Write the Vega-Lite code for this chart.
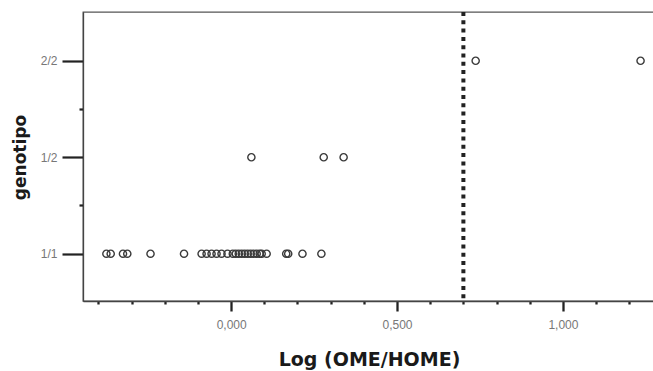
{
  "$schema": "https://vega.github.io/schema/vega-lite/v6.json",
  "width": 571,
  "height": 289,
  "autosize": {"type": "none"},
  "padding": {"left": 83, "top": 12, "right": 0, "bottom": 70},
  "background": "white",
  "config": {
    "view": {"stroke": "#555", "strokeWidth": 1.3},
    "font": "Liberation Sans"
  },
  "datasets": {
    "pts": [
      {"logratio": -0.376, "genotipo": 1},
      {"logratio": -0.363, "genotipo": 1},
      {"logratio": -0.326, "genotipo": 1},
      {"logratio": -0.313, "genotipo": 1},
      {"logratio": -0.243, "genotipo": 1},
      {"logratio": -0.142, "genotipo": 1},
      {"logratio": -0.089, "genotipo": 1},
      {"logratio": -0.074, "genotipo": 1},
      {"logratio": -0.059, "genotipo": 1},
      {"logratio": -0.044, "genotipo": 1},
      {"logratio": -0.029, "genotipo": 1},
      {"logratio": -0.011, "genotipo": 1},
      {"logratio": 0.005, "genotipo": 1},
      {"logratio": 0.014, "genotipo": 1},
      {"logratio": 0.023, "genotipo": 1},
      {"logratio": 0.032, "genotipo": 1},
      {"logratio": 0.041, "genotipo": 1},
      {"logratio": 0.05, "genotipo": 1},
      {"logratio": 0.059, "genotipo": 1},
      {"logratio": 0.068, "genotipo": 1},
      {"logratio": 0.077, "genotipo": 1},
      {"logratio": 0.086, "genotipo": 1},
      {"logratio": 0.092, "genotipo": 1},
      {"logratio": 0.107, "genotipo": 1},
      {"logratio": 0.166, "genotipo": 1},
      {"logratio": 0.172, "genotipo": 1},
      {"logratio": 0.215, "genotipo": 1},
      {"logratio": 0.272, "genotipo": 1},
      {"logratio": 0.061, "genotipo": 2},
      {"logratio": 0.279, "genotipo": 2},
      {"logratio": 0.339, "genotipo": 2},
      {"logratio": 0.737, "genotipo": 3},
      {"logratio": 1.234, "genotipo": 3}
    ],
    "cut": [{"logratio": 0.7}]
  },
  "encoding": {
    "x": {
      "field": "logratio",
      "type": "quantitative",
      "scale": {"domain": [-0.4465, 1.2745], "nice": false, "zero": false},
      "axis": {
        "title": "Log (OME/HOME)",
        "values": [-0.4, -0.3, -0.2, -0.1, 0, 0.1, 0.2, 0.3, 0.4, 0.5, 0.6, 0.7, 0.8, 0.9, 1.0, 1.1, 1.2],
        "grid": false,
        "domainColor": "#444",
        "domainWidth": 1.3,
        "tickColor": "#222",
        "tickWidth": 2.3,
        "tickSize": {"expr": "abs(datum.value*2 - round(datum.value*2)) < 0.01 ? 10 : 3"},
        "labelExpr": "abs(datum.value*2 - round(datum.value*2)) < 0.01 ? replace(format(datum.value, '.3f'), '.', ',') : ''",
        "labelFont": "Liberation Sans",
        "labelFontSize": 12,
        "labelColor": "#777",
        "labelPadding": 8,
        "labelOverlap": false,
        "labelFlush": false,
        "labelBound": false,
        "titleFont": "DejaVu Sans",
        "titleFontWeight": "bold",
        "titleFontSize": 19,
        "titleColor": "#1a1a1a",
        "titleBaseline": "middle",
        "titleX": 286,
        "titleY": 58
      }
    }
  },
  "layer": [
    {
      "data": {"name": "pts"},
      "mark": {"type": "point", "shape": "circle", "filled": false, "color": "#3a3a3a", "strokeWidth": 1.4, "size": 52, "opacity": 1},
      "encoding": {
        "y": {
          "field": "genotipo",
          "type": "quantitative",
          "scale": {"domain": [0.51, 3.505], "nice": false, "zero": false},
          "axis": {
            "title": "genotipo",
            "values": [1, 1.5, 2, 2.5, 3],
            "grid": false,
            "domainColor": "#444",
            "domainWidth": 1.3,
            "tickColor": "#222",
            "tickWidth": 2.2,
            "tickSize": {"expr": "datum.value % 1 == 0 ? 21 : 4"},
            "labelExpr": "datum.value == 1 ? '1/1' : datum.value == 2 ? '1/2' : datum.value == 3 ? '2/2' : ''",
            "labelFont": "Liberation Sans",
            "labelFontSize": 12,
            "labelColor": "#777",
            "labelPadding": 5,
            "labelOverlap": false,
            "labelFlush": false,
            "labelBound": false,
            "titleFont": "DejaVu Sans",
            "titleFontWeight": "bold",
            "titleFontSize": 17,
            "titleColor": "#1a1a1a",
            "titleAngle": 270,
            "titleAlign": "center",
            "titleBaseline": "middle",
            "titleX": -63,
            "titleY": 145
          }
        }
      }
    },
    {
      "data": {"name": "cut"},
      "mark": {"type": "rule", "color": "#222", "strokeWidth": 4, "strokeDash": [4, 4.3]},
      "encoding": {}
    }
  ]
}
